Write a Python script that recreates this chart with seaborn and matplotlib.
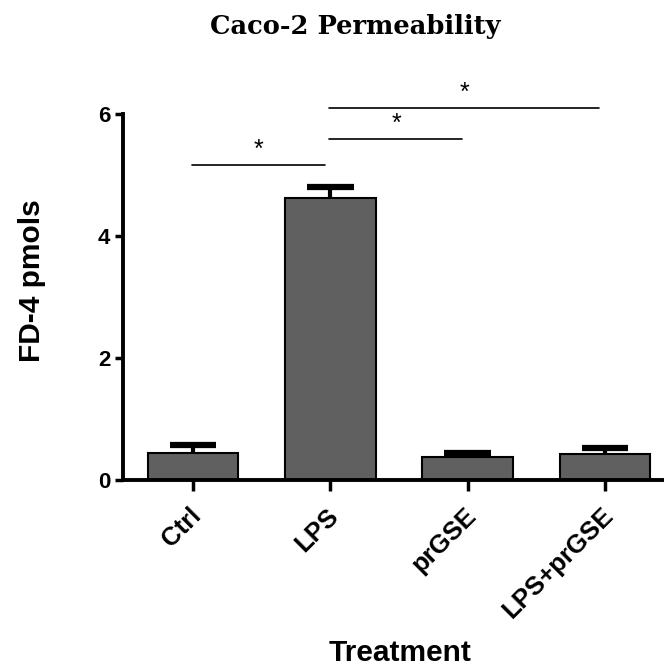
import matplotlib
matplotlib.use("Agg")
import matplotlib.pyplot as plt
import matplotlib.transforms as mtransforms
import seaborn as sns
import numpy as np
import pandas as pd

categories = ["Ctrl", "LPS", "prGSE", "LPS+prGSE"]
means = [0.44, 4.62, 0.37, 0.42]
sem = [0.13, 0.18, 0.08, 0.11]
yticks = [0, 2, 4, 6]
comparisons = [(0, 1, 5.17), (1, 2, 5.59), (1, 3, 6.1)]

sns.set_theme(style="ticks")
plt.rcParams['font.family'] = ['Liberation Sans', 'DejaVu Sans']
plt.rcParams['text.color'] = 'black'
plt.rcParams['axes.labelcolor'] = 'black'
plt.rcParams['xtick.color'] = 'black'
plt.rcParams['ytick.color'] = 'black'
plt.rcParams['axes.edgecolor'] = 'black'

fig = plt.figure(figsize=(6.64, 6.70), dpi=100)
ax = fig.add_axes([123/664, 1-480/670, (664-123)/664, (480-114)/670])

df = pd.DataFrame({"Treatment": categories, "FD4": means})
sns.barplot(data=df, x="Treatment", y="FD4", color="#606060", saturation=1,
            width=0.66, edgecolor="black", linewidth=1.5, ax=ax, errorbar=None)
x = np.arange(len(categories))
tops = np.array(means) + np.array(sem)
ax.vlines(x, means, tops, color="black", lw=3, zorder=5)
ax.hlines(tops, x - 0.17, x + 0.17, color="black", lw=4.5, zorder=5)

ax.set_xlim(-0.51, 3.43)
ax.set_ylim(0, 6)
ax.set_yticks(yticks)
ax.set_yticklabels([str(t) for t in yticks], fontsize=16, fontweight="bold")
ax.set_xticks(x)
ax.set_xticklabels(categories, rotation=45, ha="right", rotation_mode="anchor",
                   fontsize=18.5, fontweight="bold")
ax.tick_params(axis="y", length=6, width=2.5, pad=3)
ax.tick_params(axis="x", length=8, width=2.5, pad=9)
offset = mtransforms.ScaledTranslation(-4/100, 0, fig.dpi_scale_trans)
for lbl in ax.get_xticklabels():
    lbl.set_transform(lbl.get_transform() + offset)
for s in ["top", "right"]:
    ax.spines[s].set_visible(False)
for s in ["left", "bottom"]:
    ax.spines[s].set_linewidth(2.8)
ax.set_ylabel("FD-4 pmols", fontsize=21.5, fontweight="bold")
ax.yaxis.set_label_coords(-0.143, 0.546)
ax.set_xlabel("Treatment", fontsize=21.5, fontweight="bold", va="baseline")
ax.xaxis.set_label_coords(0.512, -0.495)

for a, b, h in comparisons:
    ax.plot([a - 0.01, b - 0.04], [h, h], color="black", lw=1.2, clip_on=False)
    ax.text((a + b) / 2 - 0.02, h + 0.05, "*", ha="center", va="bottom",
            fontsize=18, clip_on=False)

fig.text(0.535, 0.960, "Caco-2 Permeability", ha="center", va="center",
         fontsize=18.5, fontweight="bold", family=["DejaVu Serif"])

fig.savefig("out.png", dpi=100, facecolor="white")
